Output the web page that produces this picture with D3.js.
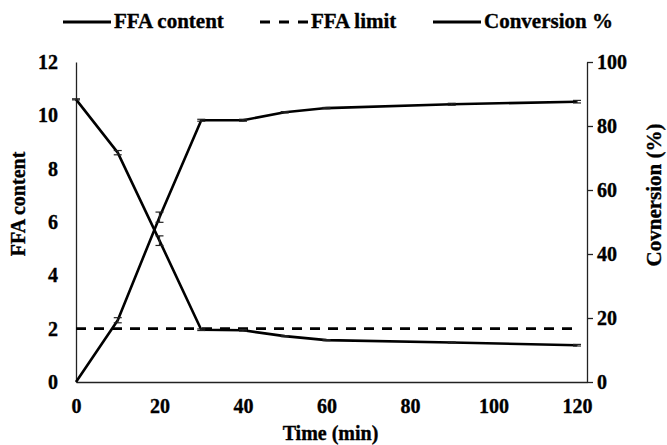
<!DOCTYPE html>
<html>
<head>
<meta charset="utf-8">
<script src="https://cdn.jsdelivr.net/npm/d3@7"></script>
<style>
	body { margin: 0; background: #fff; }
	svg text { font-family: "Liberation Serif", "Times New Roman", serif; font-weight: bold; fill: #000; stroke: #000; stroke-width: 0.35px; }
</style>
</head>
<body>
<div id="chart"></div>
<script>
'use strict';

// data
var time = [0, 10, 20, 30, 40, 50, 60, 90, 120];
var ffaContent = [10.6, 8.6, 5.3, 1.96, 1.94, 1.72, 1.57, 1.48, 1.38];
var ffaError = [0.02, 0.08, 0.18, 0.03, 0.03, 0.02, 0.02, 0.02, 0.03];
var conversion = [0, 19.3, 51.5, 81.8, 81.8, 84.3, 85.6, 86.8, 87.6];
var conversionError = [0, 0.8, 1.6, 0.3, 0.3, 0.2, 0.2, 0.3, 0.4];
var ffaLimit = 2;

var xTicks = [0, 20, 40, 60, 80, 100, 120];
var leftTicks = [0, 2, 4, 6, 8, 10, 12];
var rightTicks = [0, 20, 40, 60, 80, 100];
var legendLabels = ['FFA content', 'FFA limit', 'Conversion %'];

main();

function main(){
	//configuration
	var width = 667,
		height = 445,
		plot = { left: 76, right: 587, top: 62, bottom: 382 };

	var svg = d3.select('#chart')
		.append('svg')
			.attr('width', width)
			.attr('height', height);

	var x = d3.scaleLinear().domain([0, 122.4]).range([plot.left, plot.right]);
	var yLeft = d3.scaleLinear().domain([0, 12]).range([plot.bottom, plot.top]);
	var yRight = d3.scaleLinear().domain([0, 100]).range([plot.bottom, plot.top]);

	// axes
	var bottomAxis = svg.append('g')
		.attr('transform', 'translate(0,' + plot.bottom + ')')
		.call(d3.axisBottom(x).tickValues(xTicks).tickSize(0).tickPadding(17));

	var leftAxis = svg.append('g')
		.attr('transform', 'translate(' + plot.left + ',0)')
		.call(d3.axisLeft(yLeft).tickValues(leftTicks).tickSize(0).tickPadding(18));

	var rightAxis = svg.append('g')
		.attr('transform', 'translate(' + plot.right + ',0)')
		.call(d3.axisRight(yRight).tickValues(rightTicks).tickSize(6).tickPadding(4).tickSizeOuter(0));

	[bottomAxis, leftAxis, rightAxis].forEach(function(a){
		a.selectAll('.domain').attr('stroke', '#222').attr('stroke-width', 1.3);
		a.selectAll('.tick line').attr('stroke', '#222').attr('stroke-width', 1.3);
		a.selectAll('text').style('font-size', '20px');
	});

	// axis titles
	svg.append('text')
		.attr('x', (plot.left + plot.right) / 2 - 1)
		.attr('y', 440)
		.attr('text-anchor', 'middle')
		.style('font-size', '20px')
		.text('Time (min)');

	svg.append('text')
		.attr('transform', 'translate(25,204) rotate(-90)')
		.attr('text-anchor', 'middle')
		.style('font-size', '20px')
		.text('FFA  content');

	svg.append('text')
		.attr('transform', 'translate(661,195) rotate(-90)')
		.attr('text-anchor', 'middle')
		.style('font-size', '21px')
		.text('Covnersion (%)');

	// series
	var ffaData = time.map(function(t, i){ return { t: t, v: ffaContent[i], e: ffaError[i] }; });
	var convData = time.map(function(t, i){ return { t: t, v: conversion[i], e: conversionError[i] }; });

	var ffaLine = d3.line()
		.x(function(d){ return x(d.t); })
		.y(function(d){ return yLeft(d.v); });

	var convLine = d3.line()
		.x(function(d){ return x(d.t); })
		.y(function(d){ return yRight(d.v); });

	svg.append('line')
		.attr('x1', x(0))
		.attr('x2', x(120))
		.attr('y1', yLeft(ffaLimit))
		.attr('y2', yLeft(ffaLimit))
		.attr('stroke', '#000')
		.attr('stroke-width', 2.8)
		.attr('stroke-dasharray', '10,8');

	svg.append('path')
		.datum(ffaData)
		.attr('d', ffaLine)
		.attr('fill', 'none')
		.attr('stroke', '#000')
		.attr('stroke-width', 2.6)
		.attr('stroke-linejoin', 'round');

	svg.append('path')
		.datum(convData)
		.attr('d', convLine)
		.attr('fill', 'none')
		.attr('stroke', '#000')
		.attr('stroke-width', 2.6)
		.attr('stroke-linejoin', 'round');

	// error bars
	function errorBars(data, y, cls){
		var g = svg.selectAll('.' + cls)
			.data(data.filter(function(d){ return d.e > 0; }))
			.enter()
			.append('g')
				.attr('class', cls)
				.attr('stroke', '#222')
				.attr('stroke-width', 1.2);
		g.append('line')
			.attr('x1', function(d){ return x(d.t); })
			.attr('x2', function(d){ return x(d.t); })
			.attr('y1', function(d){ return y(d.v - d.e); })
			.attr('y2', function(d){ return y(d.v + d.e); });
		[-1, 1].forEach(function(s){
			g.append('line')
				.attr('x1', function(d){ return x(d.t) - 4; })
				.attr('x2', function(d){ return x(d.t) + 4; })
				.attr('y1', function(d){ return y(d.v + s * d.e); })
				.attr('y2', function(d){ return y(d.v + s * d.e); });
		});
	}
	errorBars(ffaData, yLeft, 'ffa-err');
	errorBars(convData, yRight, 'conv-err');

	// legend
	var legendX = [63, 260, 433],
		legendY = 22;

	var legend = svg.selectAll('.legend')
		.data(legendLabels)
		.enter()
		.append('g')
			.attr('class', 'legend')
			.attr('transform', function(d, i){ return 'translate(' + legendX[i] + ',' + legendY + ')'; });

	legend.append('line')
		.attr('x1', 0)
		.attr('x2', 48)
		.attr('y1', 0)
		.attr('y2', 0)
		.attr('stroke', '#000')
		.attr('stroke-width', 2.8)
		.attr('stroke-dasharray', function(d, i){ return i === 1 ? '10,9' : null; });

	legend.append('text')
		.attr('x', 51)
		.attr('y', 6)
		.style('font-size', '21px')
		.text(function(d){ return d; });
}
</script>
</body>
</html>
